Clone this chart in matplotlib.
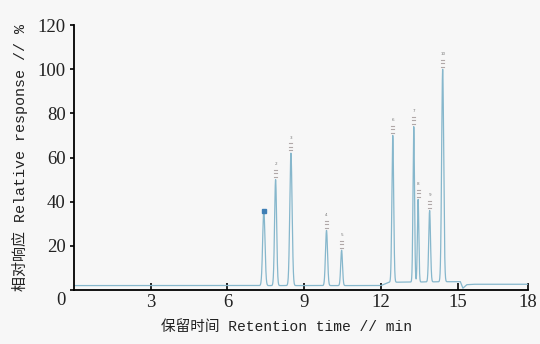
import numpy as np
import matplotlib
matplotlib.use("Agg")
import matplotlib.pyplot as plt
from matplotlib.transforms import ScaledTranslation

# Data
peak_ids = ["1", "2", "3", "4", "5", "6", "7", "8", "9", "10"]
peak_times = [7.42, 7.88, 8.48, 9.87, 10.46, 12.46, 13.28, 13.45, 13.90, 14.41]
peak_heights = [36, 50, 62, 27, 18, 70, 74, 41, 36, 100]
peak_widths = [0.045, 0.040, 0.045, 0.040, 0.035, 0.035, 0.030, 0.028, 0.035, 0.040]

base_x = [0, 12.0, 12.3, 15.1, 15.2, 15.35, 15.6, 17.75]
base_y = [2.0, 2.0, 3.5, 3.8, 0.8, 2.4, 2.6, 2.6]

x_ticks = [3, 6, 9, 12, 15, 17.75]
x_tick_labels = ["3", "6", "9", "12", "15", "18"]
y_ticks = [0, 20, 40, 60, 80, 100, 120]

x = np.linspace(0, 17.75, 9000)
y = np.interp(x, base_x, base_y)
for t, h, w in zip(peak_times, peak_heights, peak_widths):
    base = np.interp(t, base_x, base_y)
    y = y + (h - base) * np.exp(-0.5 * ((x - t) / w) ** 2)

fig = plt.figure(figsize=(5.4, 3.44), dpi=100)
fig.patch.set_facecolor("#f7f7f7")
ax = fig.add_axes([0.137, 0.157, 0.841, 0.770])
ax.set_facecolor("#f7f7f7")

ax.plot(x, y, color="#86b7cc", lw=0.9)
ax.plot([peak_times[0]], [peak_heights[0]], marker="s", ms=2.5, color="#3f7fb5", lw=0)

for pid, t, h in zip(peak_ids[1:], peak_times[1:], peak_heights[1:]):
    for k in range(3):
        ax.plot([t - 0.06, t + 0.06], [h + 1.2 + k * 1.6] * 2, color="#b0a8a8", lw=0.8)
    ax.text(t, h + 6.0, pid, ha="center", va="bottom", fontsize=3, color="#777777")

ax.set_xlim(0, 17.75)
ax.set_ylim(0, 120)
ax.set_xticks(x_ticks)
ax.set_xticklabels(x_tick_labels)
ax.set_yticks(y_ticks)
ax.spines["top"].set_visible(False)
ax.spines["right"].set_visible(False)
ax.spines["left"].set_linewidth(1.3)
ax.spines["bottom"].set_linewidth(1.3)
ax.tick_params(axis="x", direction="in", length=5, width=1.2, pad=3)
ax.tick_params(axis="y", direction="out", length=3, width=1.2, pad=3)
for lab in ax.get_xticklabels() + ax.get_yticklabels():
    lab.set_family("Liberation Serif")
    lab.set_fontsize(13.5)
    lab.set_color("#222222")
zero_lab = ax.get_yticklabels()[0]
zero_lab.set_transform(zero_lab.get_transform() + ScaledTranslation(0, -6 / 72, fig.dpi_scale_trans))

lab_fam = ["Liberation Mono", "Noto Sans CJK SC"]
ax.set_xlabel("保留时间 Retention time // min", family=lab_fam, fontsize=10.5,
              color="#222222")
ax.xaxis.set_label_coords(0.467, -0.115)
ax.set_ylabel("相对响应 Relative response // %", family=lab_fam, fontsize=10.8,
              color="#222222")
ax.yaxis.set_label_coords(-0.101, 0.5)

fig.savefig("out.png", dpi=100, facecolor=fig.get_facecolor())
